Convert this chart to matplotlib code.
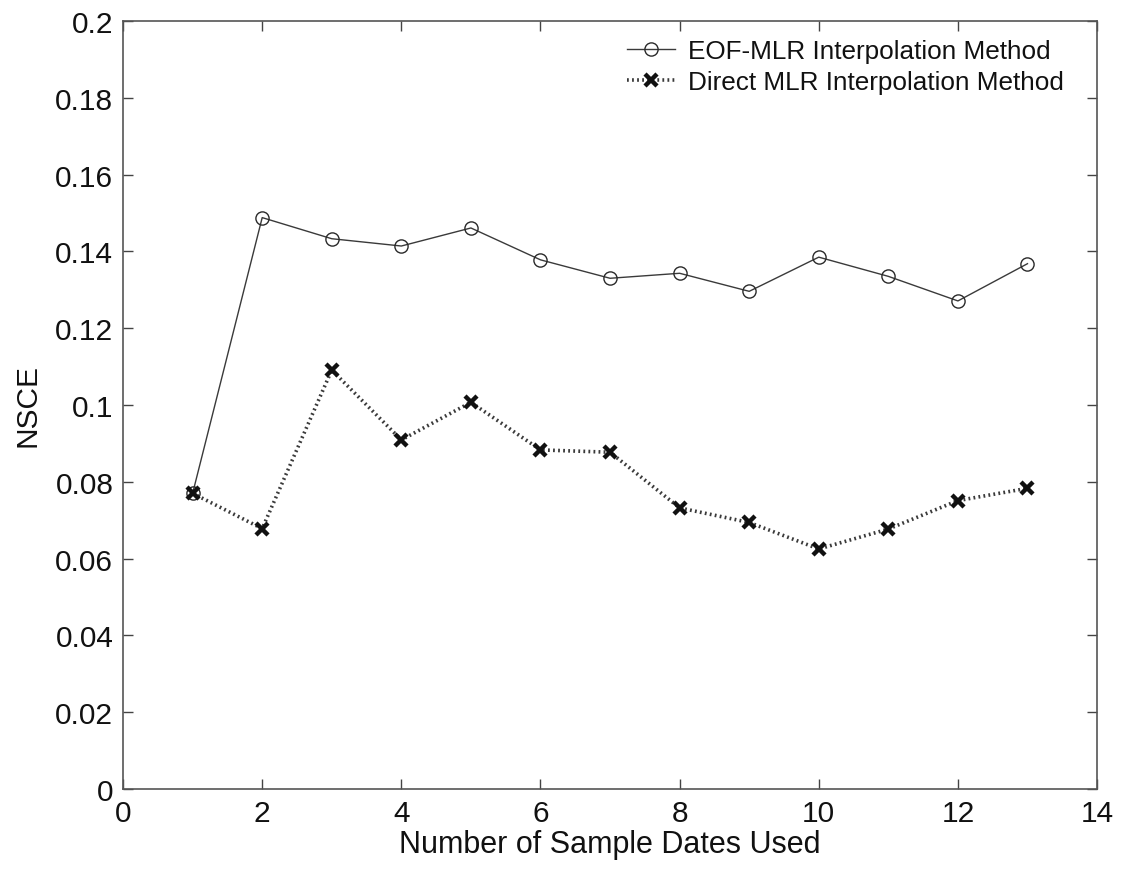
import matplotlib
matplotlib.use("Agg")
import matplotlib.pyplot as plt

plt.rcParams['font.family'] = ['Liberation Sans', 'DejaVu Sans']

# Number of sample dates used
sample_dates = [1, 2, 3, 4, 5, 6, 7, 8, 9, 10, 11, 12, 13]

# NSCE for each interpolation method
nsce_eof_mlr = [0.0770, 0.1488, 0.1433, 0.1414, 0.1461, 0.1378, 0.1330,
                0.1343, 0.1296, 0.1385, 0.1335, 0.1271, 0.1368]
nsce_direct_mlr = [0.0770, 0.0678, 0.1091, 0.0909, 0.1007, 0.0883, 0.0877,
                   0.0732, 0.0694, 0.0625, 0.0677, 0.0751, 0.0783]

label_eof = "EOF-MLR Interpolation Method"
label_direct = "Direct MLR Interpolation Method"

x_ticks = [0, 2, 4, 6, 8, 10, 12, 14]
y_ticks = [0, 0.02, 0.04, 0.06, 0.08, 0.1, 0.12, 0.14, 0.16, 0.18, 0.2]
y_tick_labels = ["0", "0.02", "0.04", "0.06", "0.08", "0.1", "0.12",
                 "0.14", "0.16", "0.18", "0.2"]

fig = plt.figure(figsize=(11.29, 8.70), dpi=100)
ax = fig.add_axes([0.109, 0.092, 0.8627, 0.8827])

ax.plot(sample_dates, nsce_eof_mlr, color="#3a3a3a", linewidth=1.0,
        marker="o", markersize=9.5, markerfacecolor="none",
        markeredgecolor="#2a2a2a", markeredgewidth=1.0, label=label_eof)
ax.plot(sample_dates, nsce_direct_mlr, color="#3a3a3a", linewidth=2.6,
        linestyle=(0, (0.5, 0.9)), marker="x", markersize=8,
        markeredgecolor="#111111", markeredgewidth=3.2, label=label_direct)

ax.set_xlim(0, 14)
ax.set_ylim(0, 0.2)
ax.set_xticks(x_ticks)
ax.set_xticklabels([str(t) for t in x_ticks])
ax.set_yticks(y_ticks)
ax.set_yticklabels(y_tick_labels)

ax.tick_params(axis="both", which="both", direction="in", length=7,
               width=1.0, color="#444444", labelsize=21.5,
               labelcolor="#111111", top=True, right=True)
ax.tick_params(axis="x", pad=7)
ax.tick_params(axis="y", pad=7)

for spine in ax.spines.values():
    spine.set_color("#555555")
    spine.set_linewidth(1.2)

ax.set_xlabel("Number of Sample Dates Used", fontsize=22, color="#111111",
              labelpad=2)
ax.set_ylabel("NSCE", fontsize=21.5, color="#111111", labelpad=10)

ax.legend(loc="upper left", bbox_to_anchor=(0.517, 0.976), frameon=False,
          fontsize=18.8, handlelength=1.85, handletextpad=0.5,
          labelspacing=0.25, borderpad=0, borderaxespad=0,
          labelcolor="#111111")

fig.savefig("out.png", dpi=100, facecolor="white")
